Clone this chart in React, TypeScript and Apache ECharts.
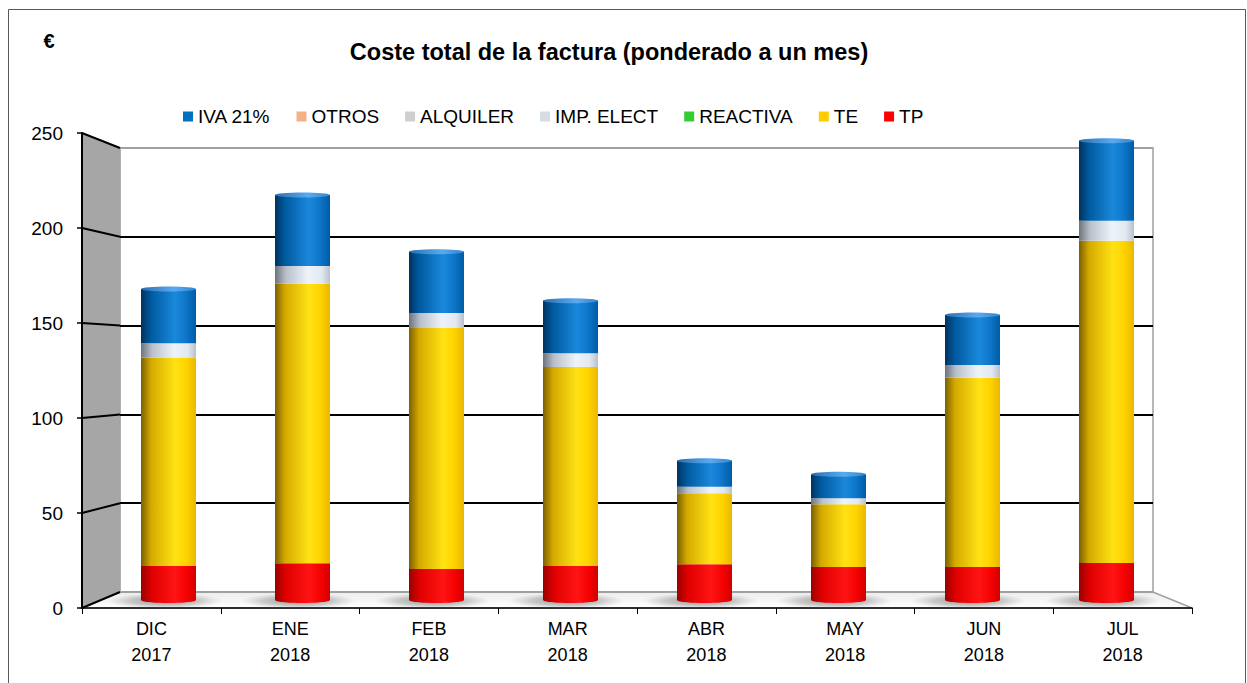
import React, { useEffect, useRef } from "react";
import * as echarts from "echarts";

const categories = ["DIC\n2017", "ENE\n2018", "FEB\n2018", "MAR\n2018", "ABR\n2018", "MAY\n2018", "JUN\n2018", "JUL\n2018"];
const tp = [18.5, 20.0, 16.9, 18.5, 19.4, 18.0, 18.0, 20.1];
const te = [113.5, 152.1, 131.1, 108.3, 38.7, 34.1, 102.9, 175.4];
const reactiva = [0, 0, 0, 0, 0, 0, 0, 0];
const impElect = [7.7, 9.6, 8.2, 7.4, 3.5, 3.2, 7.0, 10.9];
const alquiler = [0, 0, 0, 0, 0, 0, 0, 0];
const otros = [0, 0, 0, 0, 0, 0, 0, 0];
const iva = [29.5, 38.6, 33.3, 28.6, 14.2, 13.1, 27.2, 43.5];
const yTicks = { min: 0, max: 250, interval: 50 };
const legendOrder = ["IVA 21%", "OTROS", "ALQUILER", "IMP. ELECT", "REACTIVA", "TE", "TP"];
const colors: Record<string, string> = {
  "IVA 21%": "#0070C0",
  OTROS: "#F4B183",
  ALQUILER: "#D0CECE",
  "IMP. ELECT": "#D6DCE4",
  REACTIVA: "#33CC33",
  TE: "#FFCC00",
  TP: "#FF0000",
};

const FONT = 'Arial, "Liberation Sans", sans-serif';

const FRONT = { left: 82, right: 1192, top: 133, bottom: 608 };
const BACK = { left: 120, right: 1153, top: 148, bottom: 592 };
const MID = { left: 101.5, right: 1173.5, top: 140.5, bottom: 600 };

function cyl(stops: [number, string][]) {
  return new echarts.graphic.LinearGradient(0, 0, 1, 0, stops.map(([offset, color]) => ({ offset, color })));
}

const gradients: Record<string, any> = {
  "IVA 21%": cyl([[0, "#00335e"], [0.18, "#005aa0"], [0.62, "#1a88dc"], [0.8, "#0f78cc"], [1, "#005ca6"]]),
  OTROS: cyl([[0, "#b07a50"], [0.6, "#f8c8a0"], [1, "#e0a070"]]),
  ALQUILER: cyl([[0, "#8a8888"], [0.6, "#e8e6e6"], [1, "#bdbbbb"]]),
  "IMP. ELECT": cyl([[0, "#6d737c"], [0.2, "#b9c0ca"], [0.6, "#eef3fa"], [0.85, "#e2e8f0"], [1, "#b8c0cc"]]),
  REACTIVA: cyl([[0, "#1a7a1a"], [0.6, "#55dd55"], [1, "#2fb02f"]]),
  TE: cyl([[0, "#7a6000"], [0.18, "#d4a900"], [0.62, "#ffe214"], [0.82, "#ffd400"], [1, "#e8b800"]]),
  TP: cyl([[0, "#9a0000"], [0.2, "#e00000"], [0.62, "#ff1414"], [0.85, "#f40000"], [1, "#d00000"]]),
};

export default function App() {
  const ref = useRef<HTMLDivElement>(null);
  useEffect(() => {
    if (!ref.current) return;
    const chart = echarts.init(ref.current, null, { renderer: "svg" });
    const stackSeries: [string, number[]][] = [
      ["TP", tp],
      ["TE", te],
      ["REACTIVA", reactiva],
      ["IMP. ELECT", impElect],
      ["ALQUILER", alquiler],
      ["OTROS", otros],
      ["IVA 21%", iva],
    ];
    const totals = categories.map((_, i) => stackSeries.reduce((s, [, arr]) => s + arr[i], 0));

    const option: any = {
      animation: false,
      legend: {
        left: 178,
        top: 102,
        itemWidth: 10,
        itemHeight: 10,
        itemGap: 26,
        icon: "rect",
        textStyle: { fontSize: 19, fontFamily: FONT, color: "#000" },
        data: legendOrder.map((n) => ({ name: n, itemStyle: { color: colors[n] } })),
      },
      grid: [
        { left: FRONT.left, top: FRONT.top, width: FRONT.right - FRONT.left, height: FRONT.bottom - FRONT.top },
        {
          left: BACK.left, top: BACK.top, width: BACK.right - BACK.left, height: BACK.bottom - BACK.top,
          show: true, borderColor: "#a0a0a0", borderWidth: 1.5, backgroundColor: "transparent",
        },
        { left: MID.left, top: MID.top, width: MID.right - MID.left, height: MID.bottom - MID.top },
      ],
      xAxis: [
        {
          gridIndex: 0, type: "category", data: categories,
          axisLine: { lineStyle: { color: "#000", width: 1.5 } },
          axisTick: { show: true, length: 6, lineStyle: { color: "#000" } },
          axisLabel: { fontSize: 18, fontFamily: FONT, color: "#000", lineHeight: 26, margin: 8 },
        },
        { gridIndex: 1, type: "category", data: categories, show: false },
        { gridIndex: 2, type: "category", data: categories, show: false },
      ],
      yAxis: [
        {
          gridIndex: 0, type: "value", ...yTicks,
          axisLine: { show: true, lineStyle: { color: "#000", width: 2 } },
          axisTick: { show: true, length: 5, lineStyle: { color: "#000", width: 1.5 } },
          axisLabel: { fontSize: 19, fontFamily: FONT, color: "#000", margin: 19 },
          splitLine: { show: false },
        },
        {
          gridIndex: 1, type: "value", ...yTicks,
          axisLine: { show: false }, axisTick: { show: false }, axisLabel: { show: false },
          splitLine: { show: true, lineStyle: { color: ["#a0a0a0", "#000", "#000", "#000", "#000", "#a0a0a0"], width: 2 } },
        },
        { gridIndex: 2, type: "value", ...yTicks, show: false, splitLine: { show: false } },
      ],
      series: [
        {
          type: "custom", name: "shadow", xAxisIndex: 2, yAxisIndex: 2, z: 1, silent: true,
          data: categories.map((_, i) => [i, 0]),
          renderItem: (params: any, api: any) => {
            const p = api.coord([api.value(0), 0]);
            return {
              type: "ellipse",
              shape: { cx: p[0] - 4, cy: p[1] + 1, rx: 58, ry: 8 },
              style: {
                fill: new echarts.graphic.RadialGradient(0.5, 0.5, 0.5, [
                  { offset: 0, color: "rgba(60,60,60,0.55)" },
                  { offset: 0.6, color: "rgba(90,90,90,0.3)" },
                  { offset: 1, color: "rgba(120,120,120,0)" },
                ]),
              },
            };
          },
        },
        ...stackSeries.map(([name, arr]) => ({
          type: "bar", name, stack: "total", xAxisIndex: 2, yAxisIndex: 2, z: 2,
          barWidth: 55, data: arr,
          itemStyle: { color: gradients[name] },
        })),
        {
          type: "custom", name: "bottomcap", xAxisIndex: 2, yAxisIndex: 2, z: 3, silent: true,
          data: tp.map((v, i) => [i, v]),
          renderItem: (params: any, api: any) => {
            const p = api.coord([api.value(0), 0]);
            return {
              type: "ellipse",
              shape: { cx: p[0], cy: p[1], rx: 27.5, ry: 3 },
              style: { fill: gradients.TP },
            };
          },
        },
        {
          type: "custom", name: "topcap", xAxisIndex: 2, yAxisIndex: 2, z: 3, silent: true,
          data: totals.map((v, i) => [i, v]),
          renderItem: (params: any, api: any) => {
            const p = api.coord([api.value(0), api.value(1)]);
            return {
              type: "ellipse",
              shape: { cx: p[0], cy: p[1], rx: 27.5, ry: 2.5 },
              style: { fill: cyl([[0, "#2a6fb0"], [0.6, "#5aaaf0"], [1, "#3585d0"]]) },
            };
          },
        },
      ],
    };
    chart.setOption(option);

    const yF = (v: number) => chart.convertToPixel({ yAxisIndex: 0 }, v) as number;
    const yB = (v: number) => chart.convertToPixel({ yAxisIndex: 1 }, v) as number;
    const graphic: any[] = [];
    graphic.push({
      type: "rect", z: -10, silent: true,
      shape: { x: 8.5, y: 9.5, width: 1237, height: 700 },
      style: { fill: "#fff", stroke: "#595959", lineWidth: 1 },
    });
    graphic.push({
      type: "polygon", z: -1, silent: true,
      shape: { points: [[FRONT.left, yF(yTicks.max)], [BACK.left, yB(yTicks.max)], [BACK.left, yB(0)], [FRONT.left, yF(0)]] },
      style: { fill: "#a6a6a6", stroke: "#bfbfbf", lineWidth: 1 },
    });
    graphic.push({
      type: "polygon", z: -1, silent: true,
      shape: { points: [[FRONT.left, yF(0)], [BACK.left, yB(0)], [BACK.right, yB(0)], [FRONT.right, yF(0)]] },
      style: {
        fill: new echarts.graphic.LinearGradient(0, 0, 0, 1, [
          { offset: 0, color: "#ececec" },
          { offset: 1, color: "#ffffff" },
        ]),
        stroke: "#a0a0a0", lineWidth: 1.5,
      },
    });
    for (let v = yTicks.min; v <= yTicks.max; v += yTicks.interval) {
      graphic.push({
        type: "line", z: 5, silent: true,
        shape: { x1: FRONT.left, y1: yF(v), x2: BACK.left, y2: yB(v) },
        style: { stroke: "#000", lineWidth: 2 },
      });
    }
    graphic.push({
      type: "text", x: 609, y: 52,
      style: {
        text: "Coste total de la factura (ponderado a un mes)", fontSize: 23.5, fontWeight: "bold",
        fontFamily: FONT, fill: "#000", align: "center", verticalAlign: "middle",
      },
    });
    graphic.push({
      type: "text", x: 49, y: 41,
      style: { text: "€", fontSize: 20, fontWeight: "bold", fontFamily: FONT, fill: "#000", align: "center", verticalAlign: "middle" },
    });
    chart.setOption({ graphic });
    return () => chart.dispose();
  }, []);
  return (
    <div
      ref={ref}
      style={{ position: "fixed", left: 0, top: 0, width: 1247, height: 683, background: "#fff" }}
    />
  );
}
